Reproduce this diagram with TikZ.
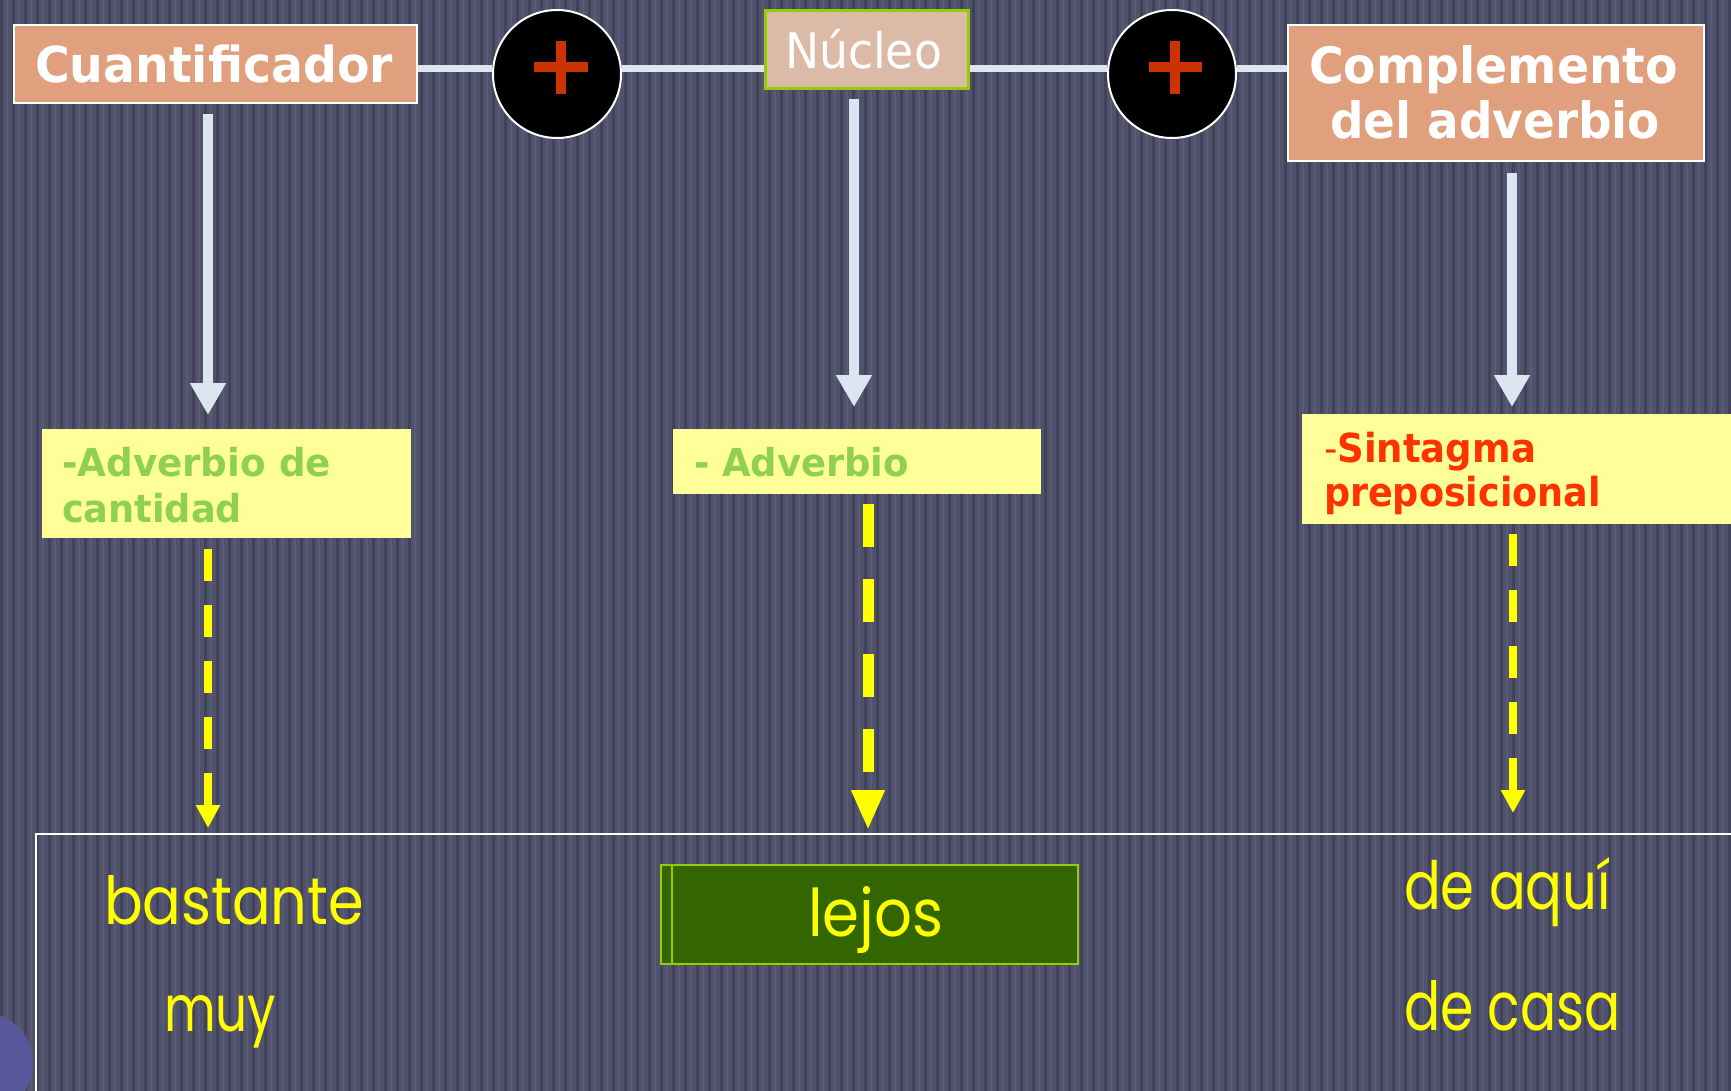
\documentclass[tikz,border=0pt]{standalone}
\usepackage{fontspec}
\setmainfont{DejaVu Sans}
\newfontfamily\cfont{Poppins}
\usetikzlibrary{arrows.meta}
\definecolor{bgc}{HTML}{50526C}
\definecolor{stripeD}{HTML}{414259}
\definecolor{stripeL}{HTML}{585A76}
\definecolor{salmon}{HTML}{E0A07E}
\definecolor{tan}{HTML}{DBBBA7}
\definecolor{lgreen}{HTML}{99CC00}
\definecolor{lightb}{HTML}{DCE6F0}
\definecolor{plusred}{HTML}{CC3300}
\definecolor{ybox}{HTML}{FFFF99}
\definecolor{gtext}{HTML}{8FD14F}
\definecolor{rtext}{HTML}{FF3300}
\definecolor{yel}{HTML}{FFFF00}
\definecolor{dgreen}{HTML}{336600}
\definecolor{purp}{HTML}{57589A}
\newcommand\fitx[3]{\resizebox{#1pt}{\height}{\fontsize{#2pt}{#2pt}\selectfont #3}}
\newcommand\fitb[3]{\resizebox{#1pt}{#2pt}{#3}}
\tikzset{
  boxA/.style={draw=white, line width=2pt, fill=salmon, anchor=north west, inner sep=0pt},
  boxY/.style={fill=ybox, anchor=north west, inner sep=0pt},
  plusc/.style={circle, fill=black, draw=white, line width=2pt, minimum size=128pt, inner sep=0pt},
  txt/.style={anchor=base west, inner sep=0pt, outer sep=0pt},
  hline/.style={draw=lightb, line width=7pt},
  downarr/.style={draw=lightb, line width=10pt, -{Triangle[width=34pt,length=32pt]}},
  ydash/.style={draw=yel, line width=8pt, dash pattern=on 32pt off 24pt, -{Triangle[width=23pt,length=23pt]}},
  ydashb/.style={draw=yel, line width=11pt, dash pattern=on 43pt off 32pt, -{Triangle[width=31pt,length=40pt]}},
}
\begin{document}
\begin{tikzpicture}[x=1pt,y=-1pt]
\useasboundingbox (0,0) rectangle (1731,1091);
\fill[bgc] (0,0) rectangle (1731,1091);
\foreach \x in {1,13,...,1740} { \draw[stripeD, line width=3pt] (\x,0) -- (\x,1091); }
\foreach \x in {7,19,...,1740} { \draw[stripeL, line width=1.5pt] (\x,0) -- (\x,1091); }
\fill[purp] (-18,1063) circle (51pt);
\draw[white, line width=2pt] (36,1100) -- (36,834) -- (1740,834);

% top boxes
\node[boxA, minimum width=403pt, minimum height=78pt] (cuant) at (13,24) {};
\node[draw=lgreen, line width=3pt, fill=tan, anchor=north west, inner sep=0pt, minimum width=203pt, minimum height=78pt] (nuc) at (764,9) {};
\node[boxA, minimum width=416pt, minimum height=136pt] (comp) at (1287,24) {};
\node[plusc] (p1) at (557,74) {};
\node[plusc] (p2) at (1172,74) {};
\coordinate (hl) at (0,69);
\draw[hline] (cuant.east |- hl) -- (p1.west |- hl);
\draw[hline] (p1.east |- hl) -- (nuc.west |- hl);
\draw[hline] (nuc.east |- hl) -- (p2.west |- hl);
\draw[hline] (p2.east |- hl) -- (comp.west |- hl);
\fill[plusred, shift={(p1.center)}] (-23,-12) rectangle (31,-2);
\fill[plusred, shift={(p1.center)}] (-1,-33) rectangle (9,20);
\fill[plusred, shift={(p2.center)}] (-23,-12) rectangle (30,-2);
\fill[plusred, shift={(p2.center)}] (-2,-33) rectangle (8,20);

\node[txt, text=white] (cuantT) at (35,83) {\bfseries\fitx{358}{49.5}{Cuantificador}};
\node[txt, text=white] (nucT) at (785,69) {\fitx{157}{49}{Núcleo}};
\node[txt, text=white] (compT1) at (1309,84) {\bfseries\fitx{369}{50}{Complemento}};
\node[txt, text=white] (compT2) at (1330,139) {\bfseries\fitx{330}{50}{del adverbio}};

% down arrows
\coordinate (a1s) at (208,114); \coordinate (a1e) at (208,415);
\coordinate (a2s) at (854,99);  \coordinate (a2e) at (854,407);
\coordinate (a3s) at (1512,173); \coordinate (a3e) at (1512,407);
\draw[downarr] (a1s) -- (a1e);
\draw[downarr] (a2s) -- (a2e);
\draw[downarr] (a3s) -- (a3e);

% yellow boxes
\node[boxY, minimum width=369pt, minimum height=109pt] (yb1) at (42,429) {};
\node[boxY, minimum width=368pt, minimum height=65pt] (yb2) at (673,429) {};
\node[boxY, minimum width=440pt, minimum height=110pt] (yb3) at (1302,414) {};
\node[txt, text=gtext] (yb1T1) at (62,476) {\bfseries\fitx{269}{38.5}{-Adverbio de}};
\node[txt, text=gtext] (yb1T2) at (62,522) {\bfseries\fitx{180}{38.5}{cantidad}};
\node[txt, text=gtext] (yb2T) at (694,476) {\bfseries\fitx{215}{38.5}{- Adverbio}};
\node[txt, text=rtext] (yb3T1) at (1324,462) {\fitx{212}{40}{-\bfseries Sintagma}};
\node[txt, text=rtext] (yb3T2) at (1324,506) {\bfseries\fitx{277}{40}{preposicional}};

% dashed yellow arrows
\coordinate (d1s) at (208,549); \coordinate (d1e) at (208,828);
\coordinate (d2s) at (868,504); \coordinate (d2e) at (868,830);
\coordinate (d3s) at (1513,534); \coordinate (d3e) at (1513,813);
\draw[ydash] (d1s) -- (d1e);
\draw[ydashb] (d2s) -- (d2e);
\draw[ydash] (d3s) -- (d3e);

% bottom words
\node[draw=lgreen, line width=2pt, fill=dgreen, anchor=north west, inner sep=0pt, minimum width=417pt, minimum height=99pt] (lejosB) at (660,864) {};
\draw[lgreen, line width=2pt] (lejosB.north west) ++(12,0) coordinate (lj1) -- (lj1 |- lejosB.south);
\node[txt, text=yel] (bast) at (104,924) {\cfont\fitb{260}{49}{bastante}};
\node[txt, text=yel] (muy) at (164,1031) {\cfont\fitb{112}{36}{muy}};
\node[txt, text=yel] (lejos) at (808,936) {\cfont\fitb{135}{50}{lejos}};
\node[txt, text=yel] (aqui) at (1404,909) {\cfont\fitb{207}{52}{de aquí}};
\node[txt, text=yel] (casa) at (1404,1030) {\cfont\fitb{217}{50}{de casa}};
\end{tikzpicture}
\end{document}
